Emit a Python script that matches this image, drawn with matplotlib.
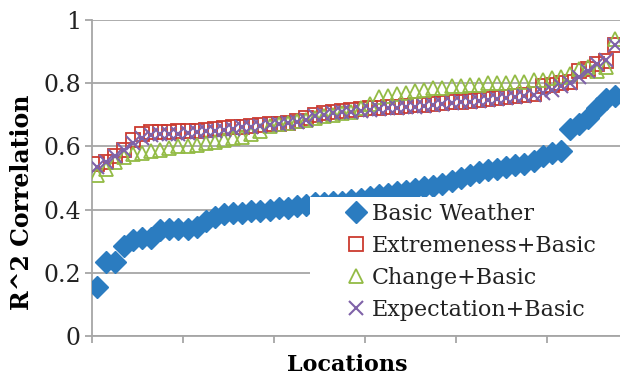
import matplotlib
matplotlib.use("Agg")
import matplotlib.pyplot as plt
from matplotlib.patches import Rectangle
import numpy as np

# R^2 per location, each series sorted ascending
basic = [0.155, 0.235, 0.235, 0.285, 0.305, 0.31, 0.31, 0.335, 0.34, 0.34,
         0.34, 0.345, 0.365, 0.375, 0.385, 0.39, 0.39, 0.395, 0.395, 0.40,
         0.405, 0.405, 0.41, 0.415, 0.42, 0.42, 0.425, 0.425, 0.43, 0.435,
         0.44, 0.445, 0.45, 0.455, 0.46, 0.465, 0.47, 0.475, 0.48, 0.49,
         0.50, 0.51, 0.52, 0.525, 0.53, 0.535, 0.54, 0.545, 0.555, 0.57,
         0.58, 0.585, 0.655, 0.67, 0.69, 0.72, 0.75, 0.76]
extremeness = [0.545, 0.55, 0.57, 0.59, 0.62, 0.64, 0.645, 0.645, 0.645, 0.648,
               0.65, 0.65, 0.652, 0.655, 0.658, 0.66, 0.662, 0.665, 0.668, 0.67,
               0.672, 0.675, 0.68, 0.69, 0.70, 0.705, 0.71, 0.712, 0.715, 0.718,
               0.72, 0.722, 0.724, 0.726, 0.728, 0.73, 0.732, 0.735, 0.738, 0.74,
               0.742, 0.745, 0.748, 0.75, 0.752, 0.755, 0.758, 0.762, 0.765, 0.79,
               0.795, 0.80, 0.805, 0.84, 0.845, 0.86, 0.87, 0.92]
change = [0.51, 0.53, 0.55, 0.565, 0.575, 0.58, 0.585, 0.59, 0.595, 0.60,
          0.60, 0.605, 0.61, 0.615, 0.62, 0.625, 0.63, 0.64, 0.65, 0.665,
          0.67, 0.675, 0.68, 0.685, 0.69, 0.695, 0.70, 0.705, 0.71, 0.72,
          0.735, 0.755, 0.76, 0.765, 0.77, 0.775, 0.78, 0.785, 0.785, 0.79,
          0.79, 0.795, 0.795, 0.80, 0.80, 0.80, 0.805, 0.805, 0.81, 0.81,
          0.815, 0.82, 0.83, 0.845, 0.85, 0.84, 0.85, 0.94]
expectation = [0.535, 0.55, 0.57, 0.59, 0.61, 0.625, 0.635, 0.64, 0.64, 0.64,
               0.642, 0.645, 0.648, 0.65, 0.653, 0.656, 0.66, 0.662, 0.665, 0.668,
               0.67, 0.673, 0.677, 0.685, 0.695, 0.70, 0.705, 0.708, 0.71, 0.713,
               0.716, 0.718, 0.72, 0.722, 0.724, 0.726, 0.728, 0.73, 0.733, 0.736,
               0.74, 0.742, 0.745, 0.748, 0.75, 0.752, 0.755, 0.758, 0.762, 0.77,
               0.78, 0.79, 0.80, 0.82, 0.84, 0.86, 0.875, 0.92]

labels = ["Basic Weather", "Extremeness+Basic", "Change+Basic", "Expectation+Basic"]
y_ticks = [0, 0.2, 0.4, 0.6, 0.8, 1]
y_tick_labels = ["0", "0.2", "0.4", "0.6", "0.8", "1"]

plt.rcParams["font.family"] = ["DejaVu Serif"]

fig = plt.figure(figsize=(6.2, 3.76), dpi=100)
ax = fig.add_axes([0.1484, 0.1064, 0.8516, 0.8404])

x = np.arange(len(basic))
grey = "#a6a6a6"

ax.plot(x, basic, linestyle="none", marker="D", markersize=11.5,
        color="#2b7cc0", label=labels[0], zorder=3)
ax.plot(x, extremeness, linestyle="none", marker="s", markersize=10.5,
        markerfacecolor="none", markeredgecolor="#cc3a2f", markeredgewidth=1.3,
        label=labels[1], zorder=3)
ax.plot(x, change, linestyle="none", marker="^", markersize=10.5,
        markerfacecolor="none", markeredgecolor="#93bb45", markeredgewidth=1.3,
        label=labels[2], zorder=3)
ax.plot(x, expectation, linestyle="none", marker="x", markersize=9.5,
        color="#7f62a8", markeredgewidth=1.5, label=labels[3], zorder=3)

ax.set_xlim(-0.5, len(basic) - 0.5)
ax.set_ylim(0, 1)
ax.set_xticks(np.arange(-0.5, len(basic), 10))
ax.set_xticklabels([])
ax.set_yticks(y_ticks)
ax.set_yticklabels(y_tick_labels, fontsize=17, color="#222222")
ax.yaxis.grid(True, color=grey, linewidth=1.3)
ax.set_axisbelow(True)

for side in ("top", "right"):
    ax.spines[side].set_visible(False)
for side in ("left", "bottom"):
    ax.spines[side].set_color(grey)
    ax.spines[side].set_linewidth(1.3)
ax.tick_params(axis="both", color=grey, width=1.3, length=5)
ax.tick_params(axis="y", pad=3)

ax.set_ylabel("R^2 Correlation", fontsize=17, fontweight="bold")
ax.yaxis.set_label_coords(-0.11, 0.424)
ax.set_xlabel("Locations", fontsize=16, fontweight="bold")
ax.xaxis.set_label_coords(0.483, -0.058)

# opaque white legend area, as in the spreadsheet chart
ax.add_patch(Rectangle((0.413, 0.004), 0.587, 0.436, transform=ax.transAxes,
                       facecolor="white", edgecolor="none", zorder=4,
                       clip_on=False))

leg = ax.legend(loc="upper left", bbox_to_anchor=(0.475, 0.435), fontsize=16,
                frameon=False, handlelength=0.8, handletextpad=0.3,
                labelspacing=0.45, borderpad=0.2, borderaxespad=0)
leg.set_zorder(5)
for t in leg.get_texts():
    t.set_color("#222222")

fig.savefig("out.png", dpi=100)
